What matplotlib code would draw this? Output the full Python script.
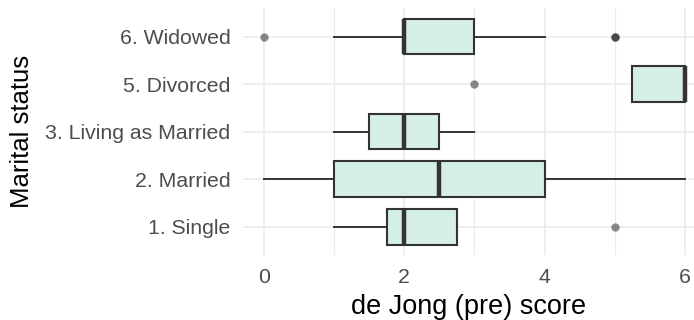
import matplotlib.pyplot as plt

# Box statistics per marital status (bottom to top)
categorias = ['1. Single', '2. Married', '3. Living as Married', '5. Divorced', '6. Widowed']
q1 = [1.75, 1.0, 1.5, 5.25, 2.0]
mediana = [2.0, 2.5, 2.0, 6.0, 2.0]
q3 = [2.75, 4.0, 2.5, 6.0, 3.0]
bigode_inf = [1.0, 0.0, 1.0, 5.25, 1.0]
bigode_sup = [2.75, 6.0, 3.0, 6.0, 4.0]
outliers = [[5.0], [], [], [3.0], [0.0, 5.0, 5.0]]

plt.rcParams['font.family'] = ['Liberation Sans', 'DejaVu Sans']

stats = []
for i in range(len(categorias)):
    stats.append({'label': categorias[i], 'q1': q1[i], 'med': mediana[i], 'q3': q3[i],
                  'whislo': bigode_inf[i], 'whishi': bigode_sup[i], 'fliers': outliers[i]})

fig = plt.figure(figsize=(6.94, 3.2), dpi=100)
ax = fig.add_axes([0.350, 0.2025, 0.65, 0.772])

# grid (ggplot theme_minimal style)
for x in [1, 3, 5]:
    ax.axvline(x, color='#ebebeb', lw=0.8, zorder=0)
for x in [0, 2, 4, 6]:
    ax.axvline(x, color='#ebebeb', lw=1.2, zorder=0)
for y in range(1, len(categorias) + 1):
    ax.axhline(y, color='#ebebeb', lw=1.2, zorder=0)

ax.bxp(stats, vert=False, widths=0.75, patch_artist=True, showcaps=False,
       boxprops=dict(facecolor='#d6efe4', edgecolor='#333333', linewidth=1.5),
       medianprops=dict(color='#333333', linewidth=3.2, solid_capstyle='butt'),
       whiskerprops=dict(color='#333333', linewidth=1.4),
       flierprops=dict(marker='o', markerfacecolor='black', markeredgecolor='none',
                       markersize=6, alpha=0.45))

ax.set_xlim(-0.3, 6.13)
ax.set_ylim(0.4, 5.6)
ax.set_xticks([0, 2, 4, 6])
ax.set_yticks(range(1, len(categorias) + 1))
ax.set_yticklabels(categorias)

for s in ax.spines.values():
    s.set_visible(False)
ax.tick_params(length=0, labelsize=15.3, labelcolor='#4d4d4d', pad=9)
ax.set_xlabel('de Jong (pre) score', fontsize=19.5, labelpad=5.5)
ax.set_ylabel('Marital status', fontsize=18.5, labelpad=8)

fig.savefig('out.png', dpi=100)
